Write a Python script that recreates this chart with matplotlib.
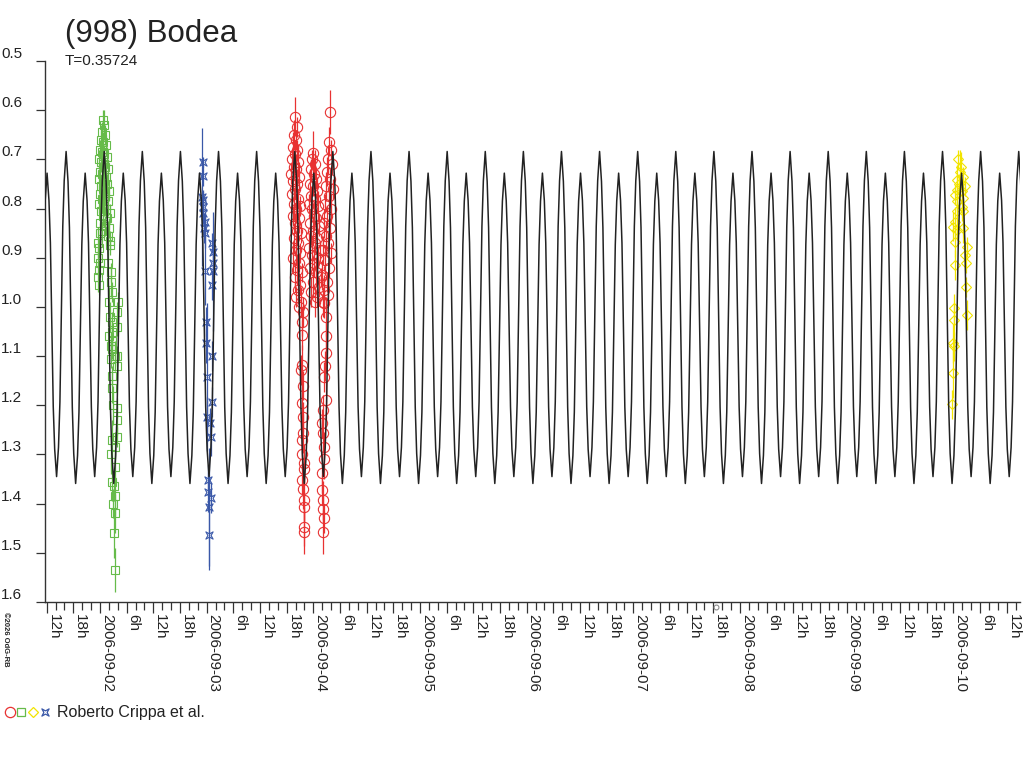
import datetime as dt
import numpy as np
import matplotlib
matplotlib.use("Agg")
import matplotlib.pyplot as plt
import matplotlib.dates as mdates
from matplotlib.lines import Line2D
from matplotlib.path import Path
from matplotlib.ticker import FuncFormatter, MultipleLocator

plt.rcParams['font.family'] = ['Liberation Sans', 'DejaVu Sans']

# ---------------- data ----------------
TITLE = "(998) Bodea"
SUBTITLE = "T=0.35724"
LEGEND_TEXT = "Roberto Crippa et al."
COPYRIGHT = "\u00a92026 OdG-RB"

PERIOD_D = 0.35724                 # rotation period (days)
EPOCH_H = -7.63                    # hours from 2006-09-02 00:00 of the brighter maximum
PROFILE_MAG = [0.684, 1.359, 0.728, 1.345]   # model extrema, one per quarter period
# shape of each branch between two extrema (fraction of quarter period -> fraction of the swing)
BRANCH_F = [0.0, 0.2, 0.35, 0.5, 0.65, 0.8]
BRANCH_R = [0.0, 0.09, 0.23, 0.5, 0.77, 0.91]
X_START_H = -12.38                 # hours from 2006-09-02 00:00
X_END_H = 207.0
Y_MIN, Y_MAX = 0.5, 1.6

# green session (hours from 2006-09-02 00:00, mag, error)
green_h = [0.68, 0.90, 0.45, 1.13, 0.23, 0.68, 1.35, 0.00, 0.45, 0.90, 1.58, -0.23, 0.23, 0.68,
           1.13, 1.80, 0.00, 0.45, 1.35, -0.23, 0.90, 1.58, 0.23, 0.68, 2.03, 0.00, 1.13, 0.45,
           1.80, -0.23, 0.90, 1.35, 0.23, 2.25, 0.68, 1.58, 0.00, 1.13, 2.03, 0.45, 1.80, 2.25,
           0.00, -0.45, -0.23, -0.45, 0.00, -0.23, -0.45, -0.23,
           2.25, 1.80, 2.48, 2.48, 2.70, 2.03, 4.05, 3.83, 2.25, 2.70, 3.83, 2.70, 2.03, 2.70,
           2.48, 2.70, 3.38, 3.83, 2.48, 3.83, 2.70, 2.70, 2.93, 3.83, 3.83, 2.70, 3.83, 3.38,
           2.48, 3.38, 2.70, 3.15, 3.38, 2.93, 3.38, 3.15, 3.38]
green_mag = [0.62, 0.63, 0.645, 0.65, 0.66, 0.665, 0.67, 0.68, 0.685, 0.69, 0.695, 0.70, 0.705, 0.71,
             0.715, 0.72, 0.725, 0.73, 0.735, 0.74, 0.745, 0.75, 0.755, 0.76, 0.765, 0.77, 0.775, 0.78,
             0.785, 0.79, 0.795, 0.80, 0.805, 0.81, 0.815, 0.82, 0.83, 0.835, 0.84, 0.845, 0.855, 0.865,
             0.85, 0.87, 0.88, 0.90, 0.91, 0.925, 0.94, 0.955,
             0.875, 0.91, 0.93, 0.95, 0.97, 0.99, 0.99, 1.01, 1.02, 1.03, 1.04, 1.05, 1.06, 1.07,
             1.08, 1.085, 1.10, 1.10, 1.105, 1.12, 1.14, 1.165, 1.20, 1.205, 1.23, 1.27, 1.265, 1.285,
             1.30, 1.325, 1.355, 1.365, 1.385, 1.40, 1.42, 1.46, 1.535]
green_err = [0.02, 0.03, 0.02, 0.02, 0.03, 0.02, 0.02, 0.02, 0.03, 0.02, 0.02, 0.02, 0.02, 0.03,
             0.02, 0.02, 0.02, 0.02, 0.03, 0.02, 0.02, 0.02, 0.02, 0.03, 0.02, 0.02, 0.02, 0.02,
             0.03, 0.02, 0.02, 0.02, 0.03, 0.02, 0.02, 0.02, 0.03, 0.02, 0.02, 0.02, 0.03, 0.02,
             0.02, 0.03, 0.02, 0.02, 0.03, 0.02, 0.03, 0.02,
             0.02, 0.03, 0.02, 0.03, 0.02, 0.03, 0.02, 0.02, 0.03, 0.02, 0.02, 0.03, 0.02, 0.02,
             0.03, 0.02, 0.03, 0.02, 0.02, 0.03, 0.02, 0.03, 0.04, 0.02, 0.03, 0.04, 0.02, 0.03,
             0.04, 0.03, 0.04, 0.03, 0.04, 0.03, 0.04, 0.05, 0.045]

# blue session
blue_h = [23.11, 23.11, 22.88, 23.18, 23.11, 23.24, 23.63, 23.40, 23.63, 25.13, 25.49, 25.49, 23.63, 25.49,
          25.13, 23.85, 23.85, 25.13, 24.01, 25.13, 24.01, 24.75, 24.91, 24.37, 24.37, 24.91, 24.59, 24.53]
blue_mag = [0.705, 0.734, 0.776, 0.783, 0.796, 0.81, 0.827, 0.84, 0.85, 0.87, 0.888, 0.91, 0.926, 0.928,
            0.955, 1.03, 1.074, 1.10, 1.142, 1.193, 1.223, 1.236, 1.264, 1.352, 1.376, 1.389, 1.406, 1.464]
blue_err = [0.01, 0.02, 0.14, 0.02, 0.03, 0.02, 0.02, 0.03, 0.03, 0.02, 0.03, 0.02, 0.07, 0.12,
            0.03, 0.03, 0.04, 0.03, 0.15, 0.03, 0.04, 0.03, 0.04, 0.03, 0.04, 0.03, 0.12, 0.07]

# red session
red_h = [43.88, 44.26, 43.65, 44.10, 43.43, 44.33, 43.88, 43.20, 44.55, 43.65, 44.10, 42.98, 44.78, 43.43,
         44.33, 43.88, 43.20, 44.55, 43.65, 45.00, 44.10, 43.43, 44.78, 43.88, 44.33, 45.23, 43.65, 44.55,
         44.10, 45.00, 43.43, 44.78, 44.33, 45.45, 43.88, 45.00, 44.55, 44.10, 45.23, 44.78, 45.68,
         45.52, 45.52, 45.16, 45.52, 45.74, 45.74, 45.52, 45.90, 45.52, 45.90, 45.90, 45.90, 45.90,
         45.34, 45.68, 45.45, 45.79, 45.68,
         47.99, 47.70, 48.38, 47.48, 48.15, 48.60, 47.25, 47.93, 48.83, 47.48, 48.38, 47.03, 49.05, 47.70,
         48.15, 48.60, 47.25, 49.28, 47.93, 47.48, 48.83, 48.38, 47.03, 49.50, 47.70, 49.05, 48.15, 47.25,
         48.60, 49.73, 47.93, 49.28, 47.48, 48.83, 48.38,
         51.75, 51.59, 51.98, 51.30, 52.20, 51.08, 51.75, 50.85, 52.43, 51.53, 50.63, 51.98, 51.08, 50.40,
         51.75, 50.85, 51.30, 50.18, 51.98, 50.63, 51.53, 49.95, 51.08, 50.40, 51.30, 50.18,
         50.40, 50.78, 50.78, 50.78, 50.40, 50.78, 50.02, 50.24, 50.40, 50.02, 50.02, 50.24, 50.40, 50.24,
         50.51, 50.18, 50.29, 50.13]
red_mag = [0.613, 0.634, 0.65, 0.66, 0.675, 0.68, 0.69, 0.70, 0.705, 0.715, 0.72, 0.73, 0.735, 0.745,
           0.75, 0.76, 0.77, 0.78, 0.79, 0.795, 0.80, 0.815, 0.82, 0.83, 0.845, 0.85, 0.86, 0.87,
           0.885, 0.89, 0.90, 0.91, 0.925, 0.93, 0.94, 0.955, 0.965, 0.98, 0.99, 1.00, 1.01,
           1.057, 1.118, 1.128, 1.196, 1.224, 1.257, 1.30, 1.318, 1.352, 1.393, 1.407, 1.447, 1.457,
           1.03, 1.16, 1.27, 1.33, 1.37,
           0.688, 0.70, 0.71, 0.72, 0.73, 0.74, 0.75, 0.755, 0.765, 0.775, 0.78, 0.79, 0.795, 0.80,
           0.815, 0.82, 0.83, 0.835, 0.845, 0.855, 0.86, 0.87, 0.88, 0.885, 0.895, 0.90, 0.91, 0.92,
           0.93, 0.94, 0.95, 0.96, 0.97, 0.98, 0.99,
           0.603, 0.664, 0.68, 0.70, 0.71, 0.725, 0.74, 0.755, 0.76, 0.775, 0.79, 0.80, 0.815, 0.83,
           0.84, 0.855, 0.87, 0.885, 0.89, 0.905, 0.92, 0.935, 0.95, 0.965, 0.975, 0.99,
           0.993, 1.02, 1.06, 1.094, 1.142, 1.19, 1.237, 1.257, 1.285, 1.338, 1.372, 1.393, 1.43, 1.457,
           1.12, 1.21, 1.31, 1.41]
red_err = [0.04, 0.02, 0.03, 0.02, 0.03, 0.02, 0.03, 0.02, 0.03, 0.02, 0.03, 0.02, 0.03, 0.02,
           0.03, 0.02, 0.03, 0.02, 0.03, 0.02, 0.03, 0.02, 0.03, 0.02, 0.03, 0.02, 0.03, 0.02,
           0.03, 0.02, 0.03, 0.02, 0.03, 0.02, 0.03, 0.02, 0.03, 0.02, 0.03, 0.02, 0.03,
           0.03, 0.04, 0.03, 0.04, 0.03, 0.04, 0.03, 0.04, 0.03, 0.04, 0.03, 0.04, 0.045,
           0.03, 0.03, 0.04, 0.03, 0.04,
           0.045, 0.02, 0.03, 0.02, 0.03, 0.02, 0.03, 0.02, 0.03, 0.02, 0.03, 0.02, 0.03, 0.02,
           0.03, 0.02, 0.03, 0.02, 0.03, 0.02, 0.03, 0.02, 0.03, 0.02, 0.03, 0.02, 0.03, 0.02,
           0.03, 0.02, 0.03, 0.02, 0.03, 0.02, 0.03,
           0.045, 0.03, 0.02, 0.03, 0.02, 0.03, 0.02, 0.03, 0.02, 0.03, 0.02, 0.03, 0.02, 0.03,
           0.02, 0.03, 0.02, 0.03, 0.02, 0.03, 0.02, 0.03, 0.02, 0.03, 0.02, 0.03,
           0.03, 0.04, 0.03, 0.04, 0.03, 0.04, 0.03, 0.04, 0.03, 0.04, 0.03, 0.04, 0.03, 0.045,
           0.03, 0.03, 0.04, 0.03]

# yellow session
yellow_h = [193.50, 194.24, 192.76, 194.63, 192.76, 192.38, 194.24, 192.76, 193.88, 192.76, 194.24,
            192.38, 191.99, 192.76, 194.24, 192.38, 195.01, 194.63, 194.78, 192.38, 194.78, 192.22,
            195.01, 192.22, 191.99, 192.22, 191.99, 191.77, 193.05, 193.73, 193.28, 193.95]
yellow_mag = [0.725, 0.735, 0.742, 0.755, 0.762, 0.772, 0.779, 0.785, 0.796, 0.806, 0.806,
              0.827, 0.837, 0.844, 0.84, 0.868, 0.878, 0.895, 0.911, 0.915, 0.96, 1.003,
              1.016, 1.027, 1.074, 1.08, 1.135, 1.198, 0.70, 0.715, 0.75, 0.765]
yellow_err = [0.045, 0.02, 0.03, 0.02, 0.03, 0.02, 0.03, 0.02, 0.03, 0.02, 0.03,
              0.03, 0.03, 0.02, 0.03, 0.03, 0.02, 0.03, 0.02, 0.03, 0.02, 0.03,
              0.03, 0.03, 0.04, 0.03, 0.05, 0.03, 0.02, 0.03, 0.02, 0.02]

# single grey outlier near the axis
grey_h = [138.6]
grey_mag = [1.61]

# ---------------- styles ----------------
C_RED = '#e83232'
C_GREEN = '#66bb4a'
C_BLUE = '#3a58a8'
C_YELLOW = '#f2e400'
C_CURVE = '#222222'
C_AXIS = '#333333'

star_verts = [(-1, -1), (0, -0.45), (1, -1), (0.45, 0), (1, 1), (0, 0.45), (-1, 1), (-0.45, 0), (-1, -1)]
star_codes = [Path.MOVETO] + [Path.LINETO] * 7 + [Path.CLOSEPOLY]
STAR = Path(star_verts, star_codes)

BASE = mdates.date2num(dt.datetime(2006, 9, 2))
BASE_DT = dt.datetime(2006, 9, 2)


def tnum(hours):
    return BASE + np.asarray(hours, dtype=float) / 24.0


fig = plt.figure(figsize=(10.24, 7.68), dpi=100)
ax = fig.add_axes([45 / 1024, 1 - 602 / 768, 975 / 1024, 541 / 768])

sessions = [
    (green_h, green_mag, green_err, C_GREEN, 's', 5.8),
    (blue_h, blue_mag, blue_err, C_BLUE, STAR, 5.2),
    (red_h, red_mag, red_err, C_RED, 'o', 7.4),
    (yellow_h, yellow_mag, yellow_err, C_YELLOW, 'D', 5.2),
]
for h, m, e, c, mk, ms in sessions:
    ax.errorbar(tnum(h), m, yerr=e, fmt='none', ecolor=c, elinewidth=0.9, capsize=0, zorder=2)
    ax.plot(tnum(h), m, ls='none', marker=mk, ms=ms, mfc='none', mec=c, mew=0.8, zorder=2)

ax.plot(tnum(grey_h), grey_mag, ls='none', marker='o', ms=3.5, mfc='none', mec='#8a8a8a',
        mew=0.8, clip_on=False, zorder=4)

# model light curve: the branch shape repeated between successive extrema
quarter_h = PERIOD_D * 24.0 / 4.0
k0 = int(np.floor((X_START_H - EPOCH_H) / quarter_h)) - 1
k1 = int(np.ceil((X_END_H - EPOCH_H) / quarter_h)) + 1
model_h, model_mag = [], []
for k in range(k0, k1 + 1):
    a = PROFILE_MAG[k % 4]
    b = PROFILE_MAG[(k + 1) % 4]
    for f, r in zip(BRANCH_F, BRANCH_R):
        model_h.append(EPOCH_H + (k + f) * quarter_h)
        model_mag.append(a + (b - a) * r)
ax.plot(tnum(model_h), model_mag, color=C_CURVE, lw=1.1, zorder=3)

# axes
ax.set_xlim(tnum(X_START_H), tnum(X_END_H))
ax.set_ylim(Y_MAX, Y_MIN)
for s in ['top', 'right']:
    ax.spines[s].set_visible(False)
for s in ['left', 'bottom']:
    ax.spines[s].set_color(C_AXIS)
    ax.spines[s].set_linewidth(1.0)

ax.yaxis.set_major_locator(MultipleLocator(0.1))
ax.yaxis.set_major_formatter(FuncFormatter(lambda v, p: f"{v:.1f}"))
ax.tick_params(axis='y', length=6.5, width=0.9, color=C_AXIS, pad=10, labelsize=11, labelcolor='#222222')
for lab in ax.get_yticklabels():
    lab.set_verticalalignment('bottom')

ax.xaxis.set_major_locator(mdates.HourLocator(byhour=[0, 6, 12, 18]))
ax.xaxis.set_minor_locator(mdates.HourLocator(byhour=list(range(0, 24, 2))))


def xfmt(v, pos):
    hrs = int(round((v - BASE) * 24.0))
    d = BASE_DT + dt.timedelta(hours=hrs)
    if d.hour == 0:
        return d.strftime('%Y-%m-%d')
    return f"{d.hour}h"


ax.xaxis.set_major_formatter(FuncFormatter(xfmt))
ax.tick_params(axis='x', which='major', length=8, width=0.9, color=C_AXIS, pad=0.5,
               labelsize=11, labelcolor='#222222', labelrotation=270)
ax.tick_params(axis='x', which='minor', length=5.4, width=0.9, color=C_AXIS)
for lab in ax.get_xticklabels():
    lab.set_horizontalalignment('left')
    lab.set_verticalalignment('top')
    lab.set_rotation_mode('default')

# texts
fig.text(65 / 1024, 1 - 19 / 768, TITLE, fontsize=22.5, color='#222222', ha='left', va='top')
fig.text(65 / 1024, 1 - 54 / 768, SUBTITLE, fontsize=11, color='#222222', ha='left', va='top')
fig.text(2 / 1024, 1 - 612 / 768, COPYRIGHT, fontsize=5.5, color='#222222', rotation=270,
         ha='left', va='top', fontweight='bold')

# legend row
ly = 1 - 712 / 768
for xpx, mk, c, ms in [(9.5, 'o', C_RED, 7.4), (20.5, 's', C_GREEN, 5.8),
                       (32.5, 'D', C_YELLOW, 5.2), (44.5, STAR, C_BLUE, 5.2)]:
    fig.add_artist(Line2D([xpx / 1024], [ly], transform=fig.transFigure, marker=mk, ms=ms,
                          mfc='none', mec=c, mew=0.9, ls='none'))
fig.text(57 / 1024, ly, LEGEND_TEXT, fontsize=11.5, color='#222222', ha='left', va='center')

fig.savefig('out.png', dpi=100)
